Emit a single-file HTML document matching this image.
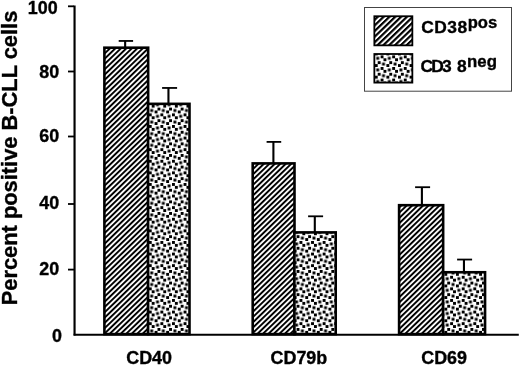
<!DOCTYPE html>
<html><head><meta charset="utf-8"><title>chart</title>
<style>
html,body{margin:0;padding:0;background:#fff;}
svg{display:block;}
text{font-family:"Liberation Sans",Arial,Helvetica,sans-serif;font-weight:bold;fill:#000;stroke:#000;stroke-width:0.35px;stroke-linejoin:round;}
</style></head><body>
<svg width="520" height="366" viewBox="0 0 520 366">
<defs>
<pattern id="hatch" width="3.8" height="3.8" patternUnits="userSpaceOnUse" patternTransform="rotate(-44)">
<rect x="0" y="0" width="3.8" height="1.95" fill="#000"/>
</pattern>
<pattern id="hatch2" width="4.05" height="4.05" patternUnits="userSpaceOnUse" patternTransform="translate(376,17) rotate(-44)">
<rect x="0" y="0" width="4.05" height="2.15" fill="#000"/>
</pattern>
<pattern id="dots" width="11.59" height="11.6" patternUnits="userSpaceOnUse" patternTransform="translate(157.5,107.6)">
<g fill="#000">
<rect x="0.00" y="0.00" width="2.9" height="2.9"/>
<rect x="4.35" y="1.45" width="2.9" height="2.9"/>
<rect x="8.69" y="2.90" width="2.9" height="2.9"/>
<rect x="-2.90" y="2.90" width="2.9" height="2.9"/>
<rect x="2.90" y="5.80" width="2.9" height="2.9"/>
<rect x="10.14" y="7.25" width="2.9" height="2.9"/>
<rect x="-1.45" y="7.25" width="2.9" height="2.9"/>
<rect x="5.79" y="8.70" width="2.9" height="2.9"/>
</g>
</pattern>
</defs>
<rect width="520" height="366" fill="#fff"/>

<rect x="104.40" y="47.70" width="43.75" height="286.40" fill="#fff"/>
<rect x="104.40" y="47.70" width="43.75" height="286.40" fill="url(#hatch)" stroke="#000" stroke-width="2.6"/>
<rect x="148.10" y="103.85" width="41.40" height="230.25" fill="#fff"/>
<rect x="148.10" y="103.85" width="41.40" height="230.25" fill="url(#dots)" stroke="#000" stroke-width="2.6"/>
<rect x="252.70" y="163.40" width="41.80" height="170.70" fill="#fff"/>
<rect x="252.70" y="163.40" width="41.80" height="170.70" fill="url(#hatch)" stroke="#000" stroke-width="2.6"/>
<rect x="294.40" y="232.40" width="41.30" height="101.70" fill="#fff"/>
<rect x="294.40" y="232.40" width="41.30" height="101.70" fill="url(#dots)" stroke="#000" stroke-width="2.6"/>
<rect x="399.10" y="205.20" width="44.05" height="128.90" fill="#fff"/>
<rect x="399.10" y="205.20" width="44.05" height="128.90" fill="url(#hatch)" stroke="#000" stroke-width="2.6"/>
<rect x="443.10" y="272.25" width="41.95" height="61.85" fill="#fff"/>
<rect x="443.10" y="272.25" width="41.95" height="61.85" fill="url(#dots)" stroke="#000" stroke-width="2.6"/>
<path d="M118.70 40.95H133.10" stroke="#000" stroke-width="1.8" fill="none"/>
<path d="M125.15 40.95V47.50" stroke="#000" stroke-width="2.1" fill="none"/>
<path d="M162.10 87.95H177.10" stroke="#000" stroke-width="1.8" fill="none"/>
<path d="M168.45 87.95V103.50" stroke="#000" stroke-width="2.1" fill="none"/>
<path d="M266.60 141.90H281.20" stroke="#000" stroke-width="1.8" fill="none"/>
<path d="M273.40 141.90V163.00" stroke="#000" stroke-width="2.1" fill="none"/>
<path d="M308.10 216.30H323.10" stroke="#000" stroke-width="1.8" fill="none"/>
<path d="M314.80 216.30V232.00" stroke="#000" stroke-width="2.1" fill="none"/>
<path d="M415.10 187.20H430.10" stroke="#000" stroke-width="1.8" fill="none"/>
<path d="M421.90 187.20V205.00" stroke="#000" stroke-width="2.1" fill="none"/>
<path d="M457.10 259.55H472.10" stroke="#000" stroke-width="1.8" fill="none"/>
<path d="M463.95 259.55V272.00" stroke="#000" stroke-width="2.1" fill="none"/>
<path d="M74.55 5.4V335.6" stroke="#000" stroke-width="2.15" fill="none"/>
<path d="M73.6 334.65H518.8" stroke="#000" stroke-width="1.95" fill="none"/>
<path d="M68 6.3H74" stroke="#000" stroke-width="1.8" fill="none"/>
<path d="M68 71.5H74" stroke="#000" stroke-width="1.8" fill="none"/>
<path d="M68 136.5H74" stroke="#000" stroke-width="1.8" fill="none"/>
<path d="M68 204H74" stroke="#000" stroke-width="1.8" fill="none"/>
<path d="M68 269.6H74" stroke="#000" stroke-width="1.8" fill="none"/>
<text x="57.7" y="13.5" font-size="17.9" text-anchor="end">100</text>
<text x="59.2" y="77.6" font-size="17.9" text-anchor="end">80</text>
<text x="59.2" y="142.3" font-size="17.9" text-anchor="end">60</text>
<text x="59.2" y="208.8" font-size="17.9" text-anchor="end">40</text>
<text x="59.2" y="274.8" font-size="17.9" text-anchor="end">20</text>
<text x="61.9" y="341.9" font-size="17.9" text-anchor="end">0</text>
<text x="149.1" y="364.4" font-size="17.9" text-anchor="middle">CD40</text>
<text x="298.9" y="364.4" font-size="17.9" text-anchor="middle">CD79b</text>
<text x="444.1" y="364.4" font-size="17.9" text-anchor="middle">CD69</text>
<text transform="translate(17.4,305.3) rotate(-90)" font-size="21.85">Percent positive B-CLL cells</text>
<rect x="364.5" y="7.5" width="147" height="83.7" fill="#fff" stroke="#444" stroke-width="1"/>
<rect x="374.35" y="16.25" width="38.0" height="29.1" fill="url(#hatch2)" stroke="#000" stroke-width="1.8"/>
<rect x="374.35" y="54" width="38.0" height="28.6" fill="url(#dots)" stroke="#000" stroke-width="1.8"/>
<text x="421.2" y="33.1" font-size="17.4" letter-spacing="0.5">CD38</text>
<text x="467.7" y="27.6" font-size="16.6">pos</text>
<text x="420.6" y="72.2" font-size="17.4" letter-spacing="-1.9">CD3</text>
<text x="457" y="72.2" font-size="17.4">8</text>
<text x="467.1" y="66.6" font-size="16.8">neg</text>
</svg></body></html>
